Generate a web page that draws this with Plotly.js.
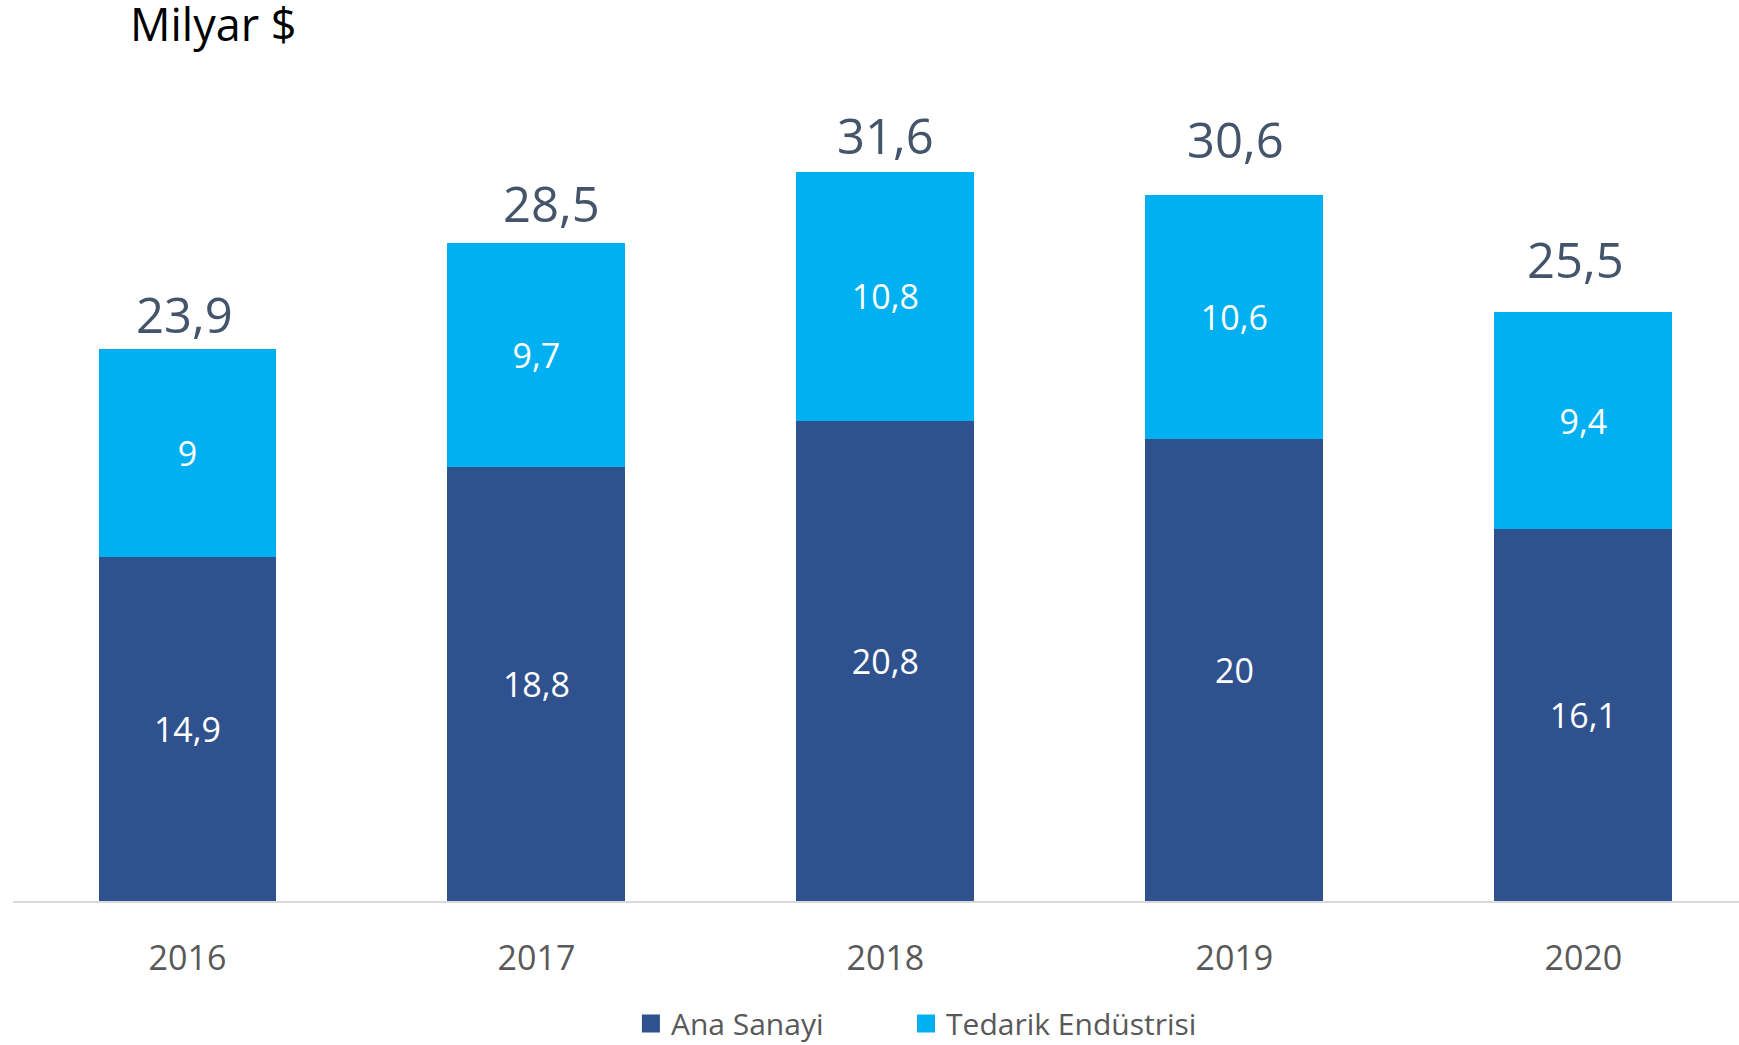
<!DOCTYPE html>
<html>
<head>
<meta charset="utf-8">
<script src="https://cdn.plot.ly/plotly-3.0.1.min.js"></script>
<style>html,body{margin:0;padding:0;background:#fff;overflow:hidden;}</style>
</head>
<body>
<div id="chart" style="width:1739px;height:1045px;"></div>
<script>
const years = ['2016', '2017', '2018', '2019', '2020'];
const anaSanayi = [14.9, 18.8, 20.8, 20, 16.1];
const tedarik = [9, 9.7, 10.8, 10.6, 9.4];
const seriesNames = ['Ana Sanayi', 'Tedarik Endüstrisi'];
const seriesColors = ['#2f528f', '#00b0f0'];
const unitTitle = 'Milyar $';

const fmt = v => String(Math.round(v * 10) / 10).replace('.', ',');
const totals = anaSanayi.map((v, i) => Math.round((v + tedarik[i]) * 10) / 10);

const fontFam = '"Open Sans", "Segoe UI", sans-serif';

// style: small per-label pixel nudges of the total labels, as placed in the original
const totalNudgeX = [-3, 15, 0, 1, -8];
const totalNudgeY = [0, 5, 2, 21, 18];

const traces = [
  {
    type: 'bar', name: seriesNames[0], x: years, y: anaSanayi,
    marker: {color: seriesColors[0]}, showlegend: false,
    text: anaSanayi.map(fmt), textposition: 'inside', insidetextanchor: 'middle',
    textfont: {family: fontFam, size: 34, color: '#ffffff'}
  },
  {
    type: 'bar', name: seriesNames[1], x: years, y: tedarik,
    marker: {color: seriesColors[1]}, showlegend: false,
    text: tedarik.map(fmt), textposition: 'inside', insidetextanchor: 'middle',
    textfont: {family: fontFam, size: 34, color: '#ffffff'}
  },
  // legend-only entries (square symbols)
  {
    type: 'scatter', mode: 'markers', name: seriesNames[0], x: [null], y: [null],
    legend: 'legend',
    marker: {symbol: 'square', size: 16, color: seriesColors[0], line: {width: 2, color: seriesColors[0]}}
  },
  {
    type: 'scatter', mode: 'markers', name: seriesNames[1], x: [null], y: [null],
    legend: 'legend2',
    marker: {symbol: 'square', size: 16, color: seriesColors[1], line: {width: 2, color: seriesColors[1]}}
  }
];

const annotations = years.map((yr, i) => ({
  x: i, y: totals[i], xref: 'x', yref: 'y',
  text: fmt(totals[i]), showarrow: false,
  yanchor: 'bottom', yshift: totalNudgeY[i], xshift: totalNudgeX[i],
  font: {family: fontFam, size: 49, color: '#44546a'}
}));

annotations.push({
  xref: 'paper', yref: 'paper', x: (128 - 13) / 1726, y: 1, xanchor: 'left', yanchor: 'bottom',
  yshift: 34,
  text: unitTitle, showarrow: false,
  font: {family: fontFam, size: 45, color: '#000000'}
});

const legendBase = {
  orientation: 'h', xanchor: 'left', y: -0.151, yanchor: 'middle',
  font: {family: fontFam, size: 30, color: '#595959'},
  itemsizing: 'trace', bgcolor: 'rgba(0,0,0,0)'
};

const layout = {
  width: 1739, height: 1045,
  margin: {l: 13, r: 0, t: 90, b: 144, pad: 0, autoexpand: false},
  paper_bgcolor: '#ffffff', plot_bgcolor: '#ffffff',
  barmode: 'stack', bargap: 0.49,
  showlegend: true,
  legend: Object.assign({}, legendBase, {x: 0.358}),
  legend2: Object.assign({}, legendBase, {x: 0.5174}),
  xaxis: {
    type: 'category', range: [-0.5, 4.446],
    showline: true, linecolor: '#d9d9d9', linewidth: 2,
    showgrid: false, zeroline: false, ticks: '',
    ticklabelstandoff: 26,
    tickfont: {family: fontFam, size: 34, color: '#595959'}
  },
  yaxis: {
    range: [0, 35.14], visible: false, showgrid: false, zeroline: false
  },
  annotations: annotations
};

Plotly.newPlot('chart', traces, layout, {displayModeBar: false, staticPlot: true});
</script>
</body>
</html>
